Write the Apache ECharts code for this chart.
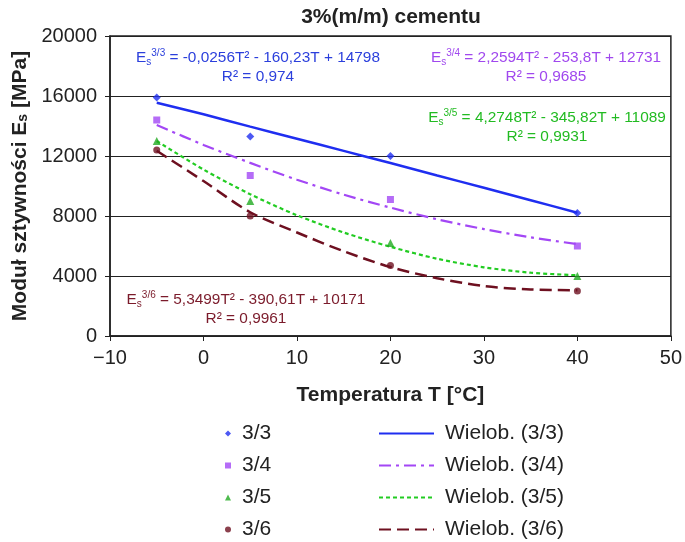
<!DOCTYPE html>
<html>
<head>
<meta charset="utf-8">
<script src="https://cdn.jsdelivr.net/npm/echarts@6/dist/echarts.min.js"></script>
<style>
  html, body { margin: 0; padding: 0; background: #fff; }
  #chart { width: 685px; height: 542px; }
</style>
</head>
<body>
<div id="chart"></div>
<script>
// measured points
const temps = [-5, 5, 20, 40];
const e33 = [15900, 13300, 12000, 8200];
const e34 = [14400, 10700, 9100, 6000];
const e35 = [13000, 9000, 6200, 4000];
const e36 = [12400, 8000, 4700, 3000];

// polynomial trend lines, every 5 °C
const trendT = [-5, 0, 5, 10, 15, 20, 25, 30, 35, 40];
const trend33 = [15550, 14780, 13960, 13150, 12340, 11530, 10700, 9880, 9050, 8220];
const trend34 = [14070, 12740, 11540, 10420, 9420, 8560, 7780, 7130, 6580, 6120];
const trend35 = [13000, 11100, 9450, 8050, 6900, 5950, 5150, 4580, 4220, 4050];
const trend36 = [12350, 10330, 8250, 6900, 5650, 4600, 3850, 3330, 3100, 3050];

const xTicks = [-10, 0, 10, 20, 30, 40, 50];
const yTicks = [0, 4000, 8000, 12000, 16000, 20000];

const FONT = '"Liberation Sans", Arial, sans-serif';
const INK = '#222';

const pairs = (xs, ys) => xs.map((x, i) => [x, ys[i]]);

// equation labels
const eqRich = {
  sub: { fontSize: 10, lineHeight: 10, verticalAlign: 'bottom' },
  sup: { fontSize: 10, lineHeight: 10, verticalAlign: 'top' }
};
const eqText = (x, y, color, tag, formula, r2) => ({
  type: 'text',
  x: x,
  y: y,
  z: 100,
  style: {
    text: 'E{sub|s}{sup|' + tag + '} = ' + formula + '\nR² = ' + r2,
    fill: color,
    font: '15.4px ' + FONT,
    lineHeight: 19,
    textAlign: 'center',
    textVerticalAlign: 'top',
    rich: eqRich
  }
});

const chart = echarts.init(document.getElementById('chart'));

const option = {
  animation: false,
  textStyle: { fontFamily: FONT },
  grid: {
    left: 110, right: 12, top: 36, bottom: 206,
    show: true, borderColor: INK, borderWidth: 1.5
  },
  xAxis: {
    type: 'value',
    min: xTicks[0],
    max: xTicks[xTicks.length - 1],
    interval: 10,
    axisLine: { show: true, onZero: false, lineStyle: { color: INK, width: 1.5 } },
    axisTick: { show: true, length: 5, lineStyle: { color: INK } },
    axisLabel: {
      fontSize: 20, color: INK, margin: 12,
      formatter: v => (v < 0 ? '\u2212' + Math.abs(v) : String(v))
    },
    splitLine: { show: false },
    name: 'Temperatura T [°C]',
    nameLocation: 'middle',
    nameGap: 49,
    nameTextStyle: { fontSize: 21, fontWeight: 'bold', color: INK }
  },
  yAxis: {
    type: 'value',
    min: yTicks[0],
    max: yTicks[yTicks.length - 1],
    interval: 4000,
    axisLine: { show: true, onZero: false, lineStyle: { color: INK, width: 1.5 } },
    axisTick: { show: true, length: 5, lineStyle: { color: INK } },
    axisLabel: { fontSize: 20, color: INK, margin: 13, formatter: v => String(v) },
    splitLine: { show: true, lineStyle: { color: INK, width: 1.2 } },
    name: 'Moduł sztywności E{sub|s} [MPa]',
    nameLocation: 'middle',
    nameGap: 72,
    nameTextStyle: {
      fontSize: 21, fontWeight: 'bold', color: INK,
      rich: { sub: { fontSize: 14, fontWeight: 'bold', lineHeight: 12, verticalAlign: 'bottom', color: INK } }
    }
  },
  legend: [
    {
      data: ['3/3', '3/4', '3/5', '3/6'],
      orient: 'vertical',
      left: 225, top: 423, padding: 0,
      itemWidth: 6, itemHeight: 6, itemGap: 11,
      textStyle: { fontSize: 21, color: INK, lineHeight: 21, padding: [0, 0, 0, 6] }
    },
    {
      data: ['Wielob. (3/3)', 'Wielob. (3/4)', 'Wielob. (3/5)', 'Wielob. (3/6)'],
      orient: 'vertical',
      left: 378, top: 423, padding: 0,
      itemWidth: 55, itemHeight: 14, itemGap: 11,
      itemStyle: { opacity: 0 },
      textStyle: { fontSize: 21, color: INK, lineHeight: 21, padding: [0, 0, 0, 6] }
    }
  ],
  graphic: [
    {
      type: 'text', x: 391, y: 7,
      style: {
        text: '3%(m/m) cementu', fill: INK,
        font: 'bold 21px ' + FONT, textAlign: 'center', textVerticalAlign: 'top'
      }
    },
    eqText(258, 48, '#2b3fdc', '3/3', '-0,0256T² - 160,23T + 14798', '0,974'),
    eqText(546, 48, '#a048ee', '3/4', '2,2594T² - 253,8T + 12731', '0,9685'),
    eqText(547, 108, '#22bb22', '3/5', '4,2748T² - 345,82T + 11089', '0,9931'),
    eqText(246, 290, '#7b1b2b', '3/6', '5,3499T² - 390,61T + 10171', '0,9961')
  ],
  series: [
    {
      name: 'Wielob. (3/3)', type: 'line', smooth: 0.3, symbol: 'none',
      data: pairs(trendT, trend33),
      lineStyle: { color: '#1f2ef0', width: 2.5 }, itemStyle: { color: '#1f2ef0' }
    },
    {
      name: 'Wielob. (3/4)', type: 'line', smooth: 0.3, symbol: 'none',
      data: pairs(trendT, trend34),
      lineStyle: { color: '#a347f5', width: 2.2, type: [12, 5, 3, 5] }, itemStyle: { color: '#a347f5' }
    },
    {
      name: 'Wielob. (3/5)', type: 'line', smooth: 0.3, symbol: 'none',
      data: pairs(trendT, trend35),
      lineStyle: { color: '#22cc22', width: 2.2, type: [4, 3] }, itemStyle: { color: '#22cc22' }
    },
    {
      name: 'Wielob. (3/6)', type: 'line', smooth: 0.3, symbol: 'none',
      data: pairs(trendT, trend36),
      lineStyle: { color: '#6e1020', width: 2.5, type: [12, 6] }, itemStyle: { color: '#6e1020' }
    },
    {
      name: '3/3', type: 'scatter', symbol: 'diamond', symbolSize: 8, z: 5,
      data: pairs(temps, e33), itemStyle: { color: '#1f2ef0' }
    },
    {
      name: '3/4', type: 'scatter', symbol: 'rect', symbolSize: 7, z: 5,
      data: pairs(temps, e34), itemStyle: { color: '#a347f5' }
    },
    {
      name: '3/5', type: 'scatter', symbol: 'triangle', symbolSize: 8, z: 5,
      data: pairs(temps, e35), itemStyle: { color: '#22aa22' }
    },
    {
      name: '3/6', type: 'scatter', symbol: 'circle', symbolSize: 7, z: 5,
      data: pairs(temps, e36), itemStyle: { color: '#6e1020' }
    }
  ]
};

chart.setOption(option);
</script>
</body>
</html>
